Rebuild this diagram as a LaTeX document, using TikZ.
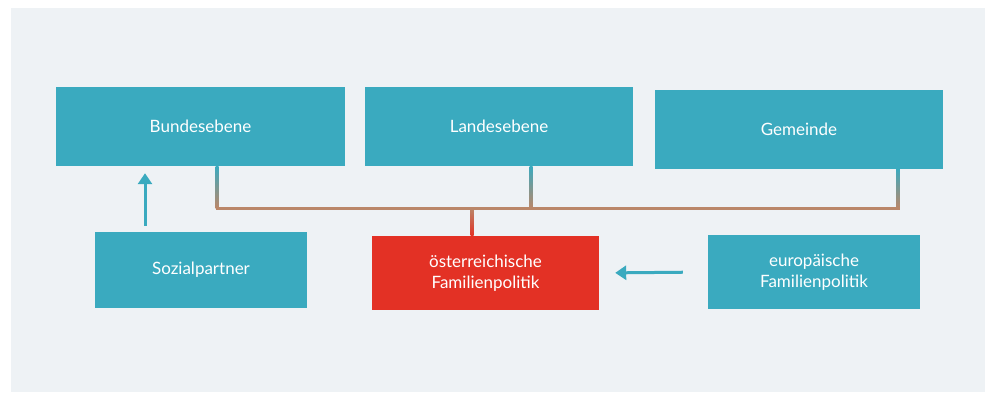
\documentclass[tikz,border=0pt]{standalone}
\usepackage{fontspec}
\setmainfont{Lato}
\usetikzlibrary{positioning,arrows.meta}
\definecolor{boxcolor}{RGB}{58,170,191}
\definecolor{redcolor}{RGB}{227,49,37}
\definecolor{backcolor}{RGB}{238,242,245}
\definecolor{linkcolor}{RGB}{186,135,105}

\begin{document}
\begin{tikzpicture}[%
    x=1bp, y=-1bp,                        % pixel grid, y going down
    >={Triangle[length=11bp,width=14bp]},  % arrow tips
    ]
\tikzset{
  base/.style={inner sep=0pt, align=center, text=white, font=\fontsize{17bp}{21bp}\selectfont},
  level/.style={base, fill=boxcolor, minimum height=79bp},
  side/.style={base, fill=boxcolor, minimum width=212bp, minimum height=76bp},
  core/.style={base, fill=redcolor, minimum width=227bp, minimum height=74bp},
  link/.style={draw=linkcolor, line width=3bp},
  arrow/.style={draw=boxcolor, line width=3bp, ->},
}

\useasboundingbox (0,0) rectangle (985,392);
\fill[backcolor] (11,8) rectangle (985,392);

\node [level, minimum width=289bp] (bund) at (200.5,126.5) {Bundesebene};
\node [level, minimum width=268bp] (land) at (499,126.5) {Landesebene};
\node [level, minimum width=288bp] (gem) at (799,129) {Gemeinde};

\node [side] (sozial) at (201,270) {Sozialpartner};
\node [core] (oest) at (485.5,273) {österreichische\\Familienpolitik};
\node [side, minimum height=74bp] (euro) at (814,272) {europäische\\Familienpolitik};

%connect
\coordinate (bs) at (217,208);
\coordinate (ls) at (531,208);
\coordinate (gs) at (898,208);
\coordinate (os) at (472,208);
\coordinate (bt) at (bs |- bund.south);
\coordinate (lt) at (ls |- land.south);
\coordinate (gt) at (gs |- gem.south);
\coordinate (ot) at (os |- oest.north);

\shade [top color=boxcolor, bottom color=linkcolor] ([xshift=-1.5bp]bt) rectangle ([xshift=1.5bp]bs);
\shade [top color=boxcolor, bottom color=linkcolor] ([xshift=-1.5bp]lt) rectangle ([xshift=1.5bp]ls);
\shade [top color=boxcolor, bottom color=linkcolor] ([xshift=-1.5bp]gt) rectangle ([xshift=1.5bp]gs);
\shade [top color=linkcolor, bottom color=redcolor] ([xshift=-1.5bp]os) rectangle ([xshift=1.5bp]ot);
\draw [link] ([xshift=-1.5bp]bs) -- ([xshift=1.5bp]gs);

\coordinate (ax) at (145,0);
\draw [arrow, shorten <=6bp, shorten >=7bp] (sozial.north -| ax) -- (bund.south -| ax);
\draw [arrow, shorten <=25bp, shorten >=16bp] (euro.west) -- (oest.east);

\end{tikzpicture}
\end{document}
